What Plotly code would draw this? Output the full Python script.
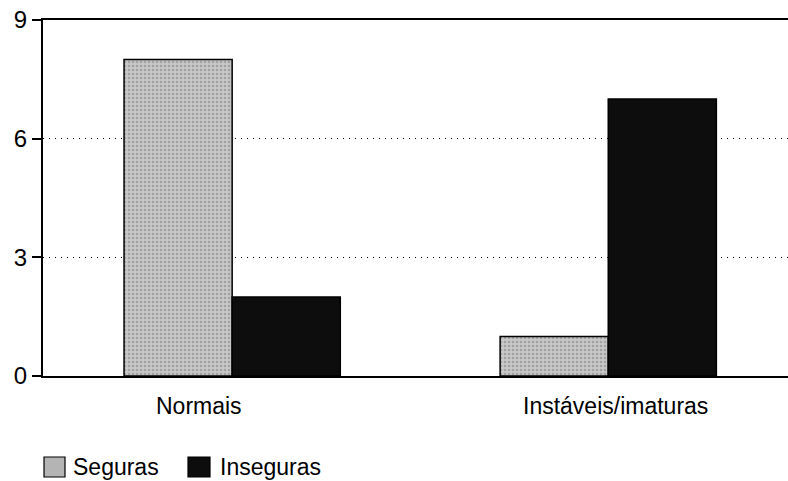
import plotly.graph_objects as go

categories = ["Normais", "Instáveis/imaturas"]
seguras = [8, 1]
inseguras = [2, 7]
y_ticks = [0, 3, 6, 9]
series_names = ["Seguras", "Inseguras"]

W, H = 788, 481
L, R, T, B = 43, 0, 20, 105
pw, ph = W - L - R, H - T - B

def px_x(x):
    return (x - L) / pw

def px_y(y):
    return (H - B - y) / ph

FONT = "Liberation Sans, Arial, Helvetica, sans-serif"
c_seg = "#b4b4b4"
c_ins = "#0d0d0d"

fig = go.Figure()
fig.add_trace(go.Bar(x=categories, y=seguras, name=series_names[0],
                     marker=dict(color=c_seg, line=dict(color="black", width=1.5),
                                 pattern=dict(shape=".", fgcolor="#7a7a7a", bgcolor="#c8c8c8", size=4, solidity=0.35)),
                     showlegend=False))
fig.add_trace(go.Bar(x=categories, y=inseguras, name=series_names[1],
                     marker=dict(color=c_ins, line=dict(color="black", width=1.5)),
                     showlegend=False))

shapes = []
annotations = []
# category labels (placed as in the scan)
label_shift = [-33, 7]
for cat, sh in zip(categories, label_shift):
    annotations.append(dict(text=cat, xref="x", yref="paper", x=cat, xshift=sh, y=px_y(406),
                            xanchor="center", yanchor="middle", showarrow=False,
                            font=dict(family=FONT, size=23, color="black")))

# manual legend
legend_items = [(44, 65, 71, c_seg, series_names[0]), (188, 210, 218, c_ins, series_names[1])]
for x0, x1, tx, col, name in legend_items:
    shapes.append(dict(type="rect", xref="paper", yref="paper",
                       x0=px_x(x0), x1=px_x(x1), y0=px_y(477), y1=px_y(457),
                       fillcolor=col, line=dict(color="black", width=1.2)))
    annotations.append(dict(text=name, xref="paper", yref="paper", x=px_x(tx), y=px_y(467),
                            xanchor="left", yanchor="middle", showarrow=False,
                            font=dict(family=FONT, size=23, color="black")))

fig.update_layout(
    width=W, height=H,
    margin=dict(l=L, r=R, t=T, b=B, autoexpand=False),
    paper_bgcolor="white", plot_bgcolor="white",
    barmode="group", bargap=0.425, bargroupgap=0,
    font=dict(family=FONT, size=23, color="black"),
    shapes=shapes, annotations=annotations,
    xaxis=dict(showline=True, linecolor="black", linewidth=1.5, mirror=True, automargin=False,
               range=[-0.503, 1.478], ticks="", showgrid=False, showticklabels=False),
    yaxis=dict(range=[0, 9], tickvals=y_ticks, showline=True, linecolor="black", linewidth=2,
               automargin=False,
               ticks="outside", ticklen=9, tickcolor="black", tickwidth=1.5,
               showgrid=True, gridcolor="black", gridwidth=1.2, griddash="1px,5px",
               zeroline=False, tickfont=dict(family=FONT, size=24, color="black")),
)

fig.write_html("out.html", config={"displayModeBar": False},
               post_script="document.body.style.margin='0';document.body.style.overflow='hidden';")
